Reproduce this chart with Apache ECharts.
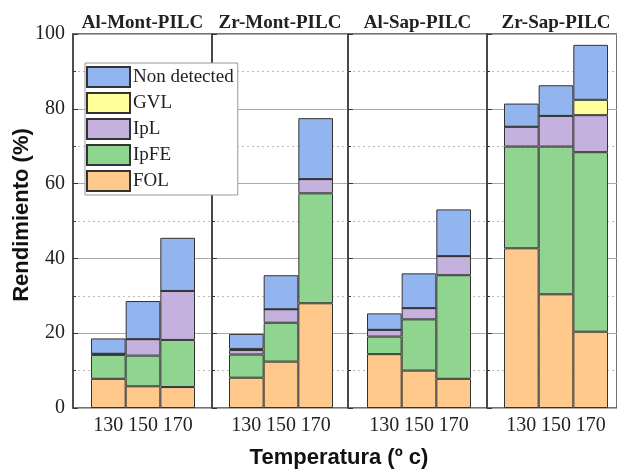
<!DOCTYPE html>
<html>
<head>
<meta charset="utf-8">
<script src="https://cdn.jsdelivr.net/npm/echarts@6/dist/echarts.min.js"></script>
<style>
  html, body { margin: 0; padding: 0; background: #fff; }
  #main { width: 617px; height: 471px; }
</style>
</head>
<body>
<div id="main"></div>
<script>
// catalizadores (paneles) y temperaturas
const panels = ['Al-Mont-PILC', 'Zr-Mont-PILC', 'Al-Sap-PILC', 'Zr-Sap-PILC']
const temps = ['130', '150', '170']
const yTicks = [0, 20, 40, 60, 80, 100]

// rendimientos (%) por panel, en orden de temperatura
const FOL = [[7.8, 5.8, 5.6], [8.1, 12.4, 28.0], [14.4, 10.0, 7.8], [42.7, 30.4, 20.4]]
const IpFE = [[6.4, 8.2, 12.6], [6.2, 10.4, 29.4], [4.7, 13.7, 27.7], [27.2, 39.5, 48.0]]
const IpL = [[0.3, 4.4, 13.1], [1.2, 3.6, 3.8], [1.8, 3.0, 5.1], [5.3, 8.2, 9.9]]
const GVL = [[0, 0, 0], [0.3, 0, 0], [0, 0, 0], [0, 0, 4.1]]
const nonDetected = [[4.1, 10.2, 14.2], [4.0, 9.1, 16.3], [4.4, 9.3, 12.5], [6.2, 8.2, 14.7]]

const seriesDefs = [
  { name: 'FOL', data: FOL, color: '#ffc98c' },
  { name: 'IpFE', data: IpFE, color: '#8fd48f' },
  { name: 'IpL', data: IpL, color: '#c4b1dd' },
  { name: 'GVL', data: GVL, color: '#ffff99' },
  { name: 'Non detected', data: nonDetected, color: '#92b4ef' }
]

const serif = 'Liberation Serif'
const sans = 'Liberation Sans'

// marco de cada panel y zona de barras
const frameLeft = [73, 212, 348, 487]
const frameWidth = [139, 136, 139, 138]
const barsLeft = [91, 229, 367, 504]
const barsWidth = 104
const gridTop = 34
const gridHeight = 374

const myChart = echarts.init(document.getElementById('main'))

const grid = []
const xAxis = []
const yAxis = []
const series = []
const graphic = []

panels.forEach((p, i) => {
  // grid del marco (lineas de division)
  grid.push({
    left: frameLeft[i], top: gridTop, width: frameWidth[i], height: gridHeight,
    show: true, borderColor: '#444', borderWidth: 1.5
  })
  xAxis.push({ gridIndex: 2 * i, type: 'category', data: [''], show: false })
  yAxis.push({
    gridIndex: 2 * i,
    type: 'value',
    min: yTicks[0],
    max: yTicks[yTicks.length - 1],
    interval: 20,
    axisLine: { show: true, lineStyle: { color: '#444', width: 1.5 } },
    axisTick: { show: true, inside: true, length: 5, lineStyle: { color: '#333' } },
    minorTick: { show: true, splitNumber: 2, length: 3, lineStyle: { color: '#333' } },
    axisLabel: {
      show: i === 0, fontFamily: serif, fontSize: 20, color: '#222', margin: 8,
      formatter: v => yTicks.includes(v) ? String(v) : ''
    },
    splitLine: { show: true, lineStyle: { color: '#aaa', width: 1 } },
    minorSplitLine: { show: true, lineStyle: { color: '#bbb', type: [2, 3], width: 1 } }
  })

  // grid de las barras
  grid.push({ left: barsLeft[i], top: gridTop, width: barsWidth, height: gridHeight })
  xAxis.push({
    gridIndex: 2 * i + 1,
    type: 'category',
    data: temps,
    axisLine: { show: false },
    axisTick: { show: false },
    axisLabel: { interval: 0, hideOverlap: false, fontFamily: serif, fontSize: 20, color: '#222', margin: 8 }
  })
  yAxis.push({ gridIndex: 2 * i + 1, type: 'value', min: 0, max: 100, show: false })

  seriesDefs.forEach(s => {
    series.push({
      name: s.name,
      type: 'bar',
      stack: 'p' + i,
      xAxisIndex: 2 * i + 1,
      yAxisIndex: 2 * i + 1,
      barWidth: '100%',
      barCategoryGap: '0%',
      itemStyle: { color: s.color, borderColor: '#333', borderWidth: 1 },
      data: s.data[i]
    })
  })

  graphic.push({
    type: 'text',
    x: frameLeft[i] + frameWidth[i] / 2,
    y: 23,
    style: {
      text: p, fontFamily: serif, fontWeight: 'bold', fontSize: 19, fill: '#222',
      textAlign: 'center', textVerticalAlign: 'middle'
    }
  })
})

graphic.push({
  type: 'text',
  x: 339,
  y: 458,
  style: {
    text: 'Temperatura (º c)', fontFamily: sans, fontWeight: 'bold', fontSize: 22, fill: '#111',
    textAlign: 'center', textVerticalAlign: 'middle'
  }
})
graphic.push({
  type: 'text',
  x: 22,
  y: 215,
  rotation: Math.PI / 2,
  style: {
    text: 'Rendimiento (%)', fontFamily: sans, fontWeight: 'bold', fontSize: 22, fill: '#111',
    textAlign: 'center', textVerticalAlign: 'middle'
  }
})

const options = {
  animation: false,
  backgroundColor: '#fff',
  grid: grid,
  xAxis: xAxis,
  yAxis: yAxis,
  legend: {
    data: ['Non detected', 'GVL', 'IpL', 'IpFE', 'FOL'],
    orient: 'vertical',
    left: 85,
    top: 63,
    itemWidth: 43,
    itemHeight: 20,
    itemGap: 4,
    padding: [3, 4, 3, 1],
    backgroundColor: '#fff',
    borderColor: '#999',
    borderWidth: 1,
    icon: 'rect',
    textStyle: { fontFamily: serif, fontSize: 19, color: '#222', padding: [0, 0, 0, -2] }
  },
  graphic: graphic,
  series: series
}

myChart.setOption(options)
</script>
</body>
</html>
